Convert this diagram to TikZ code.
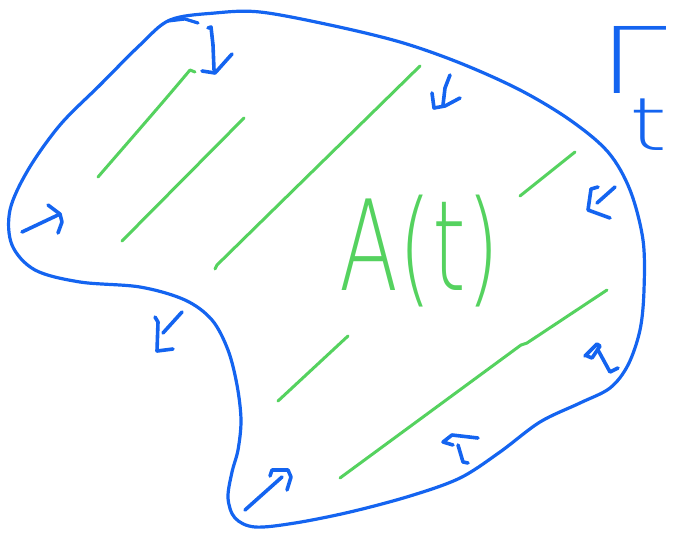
\documentclass[tikz,border=0pt]{standalone}
\usepackage{fontspec}
\usepackage{graphicx}
\newfontfamily\thinfont{DejaVu Sans ExtraLight}
\definecolor{pen}{RGB}{20,100,240}
\definecolor{hatch}{RGB}{85,210,95}
\tikzset{
  outline/.style={draw=pen, line width=3.2pt, line cap=round, line join=round},
  penstroke/.style={draw=pen, line width=3.6pt, line cap=round, line join=round},
  hatchline/.style={draw=hatch, line width=3pt, line cap=round, line join=round},
}
\begin{document}
\begin{tikzpicture}[x=1pt,y=-1pt]
\useasboundingbox (0,0) rectangle (677,533);
% boundary Gamma_t
\draw[outline] plot[smooth cycle, tension=0.55] coordinates {
 (170,20) (215,13) (260,12) (330,25) (400,42) (460,63) (520,90) (570,120)
 (608,152) (630,190) (643,240) (644,290) (640,330) (628,365) (610,388)
 (580,403) (540,422) (500,452) (460,478) (410,496) (350,512) (295,523)
 (255,527) (235,518) (228,498) (232,472) (238,450) (241,420) (237,385)
 (228,350) (212,320) (185,300) (140,287) (80,282) (35,270) (12,245)
 (10,210) (28,170) (60,125) (100,85) (140,45)};
\draw[outline] (168,21) -- (185,19) -- (198,23);
% hatching
\draw[hatchline] (98,177) .. controls (130,140) and (165,100) .. (190,70) -- (195,72);
\draw[hatchline] (122,241) -- (244,118);
\draw[hatchline] (215,269) -- (217,265) -- (420,66);
\draw[hatchline] (520,196) -- (575,152);
\draw[hatchline] (278,401) -- (348,336);
\draw[hatchline] (340,478) -- (521,345) -- (527,343) -- (607,290);
% A(t)
\node[text=hatch, inner sep=0pt] (At) at (420,251)
  {\resizebox*{160pt}{112pt}{\thinfont A(t)}};
% Gamma_t
\node[text=pen, inner sep=0pt] (Gt) at (634,88)
  {\resizebox*{68pt}{124pt}{\thinfont Γ\kern-0.31em\raisebox{-0.62em}{\scalebox{0.8}{t}}}};
% flux arrows
\draw[penstroke] (208,28) -- (211,27) -- (213,45) -- (214,70);
\draw[penstroke] (202,71) -- (215,73) -- (232,54);
\draw[penstroke] (450,75) -- (445,88) -- (443,105);
\draw[penstroke] (432,93) -- (434,108) -- (445,106) -- (460,98);
\draw[penstroke] (615,187) -- (597,203);
\draw[penstroke] (598,187) -- (591,189) -- (588,210) -- (610,218);
\draw[penstroke] (585,356) -- (597,344) -- (600,346) -- (592,358) -- (587,356);
\draw[penstroke] (598,350) -- (610,372) -- (618,368);
\draw[penstroke] (478,438) -- (452,435) -- (443,442) -- (453,445);
\draw[penstroke] (458,445) -- (463,462) -- (468,463);
\draw[penstroke] (245,510) -- (282,477);
\draw[penstroke] (270,476) -- (272,470) -- (288,470) -- (291,477) -- (287,490);
\draw[penstroke] (22,232) -- (58,215);
\draw[penstroke] (48,205) -- (60,214) -- (62,222) -- (58,233);
\draw[penstroke] (182,312) -- (163,333);
\draw[penstroke] (155,317) -- (158,322) -- (157,351) -- (173,349);
\end{tikzpicture}
\end{document}
